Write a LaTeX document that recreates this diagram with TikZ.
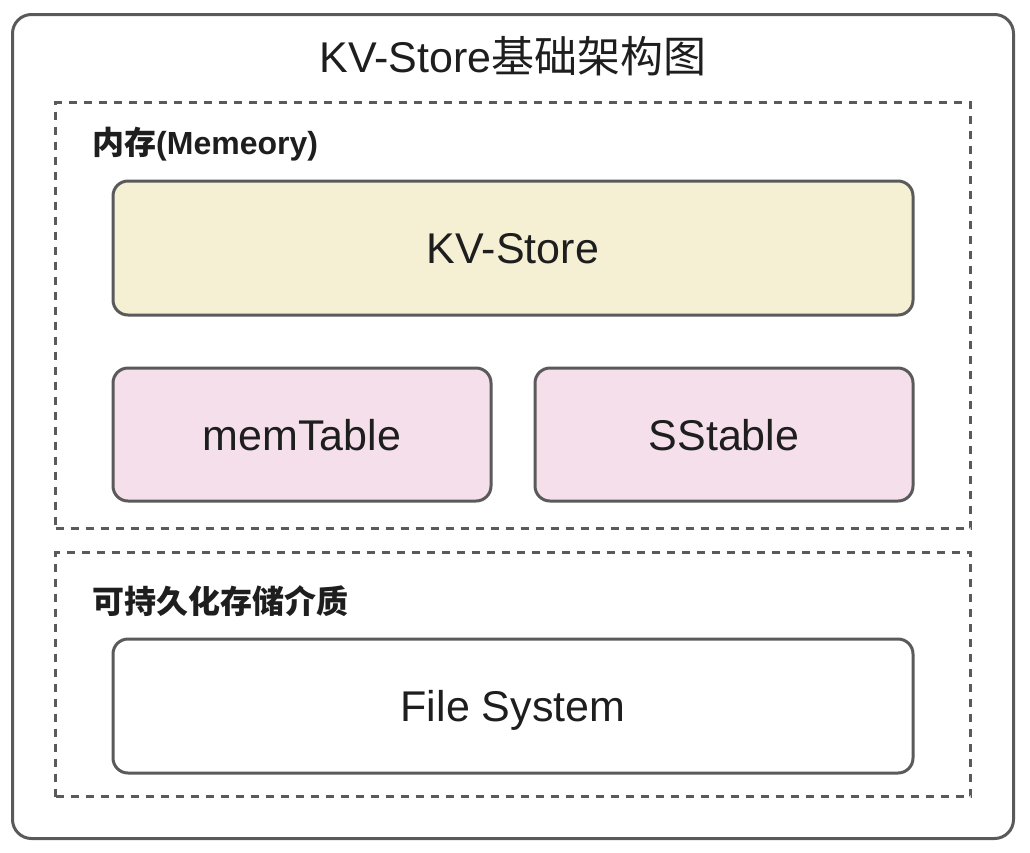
\documentclass[tikz,border=0pt]{standalone}
\usepackage{fontspec}
\setmainfont{Liberation Sans}
\newfontfamily\cjk{Noto Sans CJK SC}
\definecolor{edgegray}{HTML}{5A5A5A}
\definecolor{txt}{HTML}{1E1E1E}
\definecolor{yel}{HTML}{F5EFD3}
\definecolor{pnk}{HTML}{F5DFEB}
\tikzset{
  outerbox/.style={draw=edgegray, line width=3pt, rounded corners=19pt, fill=white},
  zonebox/.style={draw=edgegray, line width=3pt, dash pattern=on 8pt off 7pt},
  blockbox/.style={draw=edgegray, line width=3pt, rounded corners=15pt, text=txt,
    font=\fontsize{43}{50}\selectfont, text height=31pt, text depth=0pt, inner sep=0pt},
  zonelabel/.style={anchor=west, inner sep=0pt, text=txt, font=\fontsize{32}{38}\selectfont\bfseries},
  titletext/.style={inner sep=0pt, text=txt, font=\fontsize{43}{50}\selectfont},
}
\begin{document}
\begin{tikzpicture}[x=1pt,y=-1pt]
\useasboundingbox (0,0) rectangle (1030,852);
\fill[white] (0,0) rectangle (1030,852);
\node[outerbox, minimum width=1001pt, minimum height=824pt] (outer) at (513,426.5) {};
\node[titletext] (title) at (513,56) {KV-Store{\cjk 基础架构图}};
\node[zonebox, minimum width=915pt, minimum height=426pt] (memzone) at (513,315.5) {};
\node[zonelabel] (memlabel) at (92,144) {{\cjk 内存}(Memeory)};
\node[blockbox, fill=yel, minimum width=800pt, minimum height=134pt] (kv) at (513,248) {KV-Store};
\node[blockbox, fill=pnk, minimum width=378pt, minimum height=133pt] (memtable) at (302,434.5) {memTable};
\node[blockbox, fill=pnk, minimum width=378pt, minimum height=133pt] (sstable) at (724,434.5) {SStable};
\node[zonebox, minimum width=915pt, minimum height=244pt] (diskzone) at (513,674.5) {};
\node[zonelabel] (disklabel) at (92,601) {{\cjk 可持久化存储介质}};
\node[blockbox, fill=white, minimum width=800pt, minimum height=134pt] (fs) at (513,706) {File System};
\end{tikzpicture}
\end{document}
